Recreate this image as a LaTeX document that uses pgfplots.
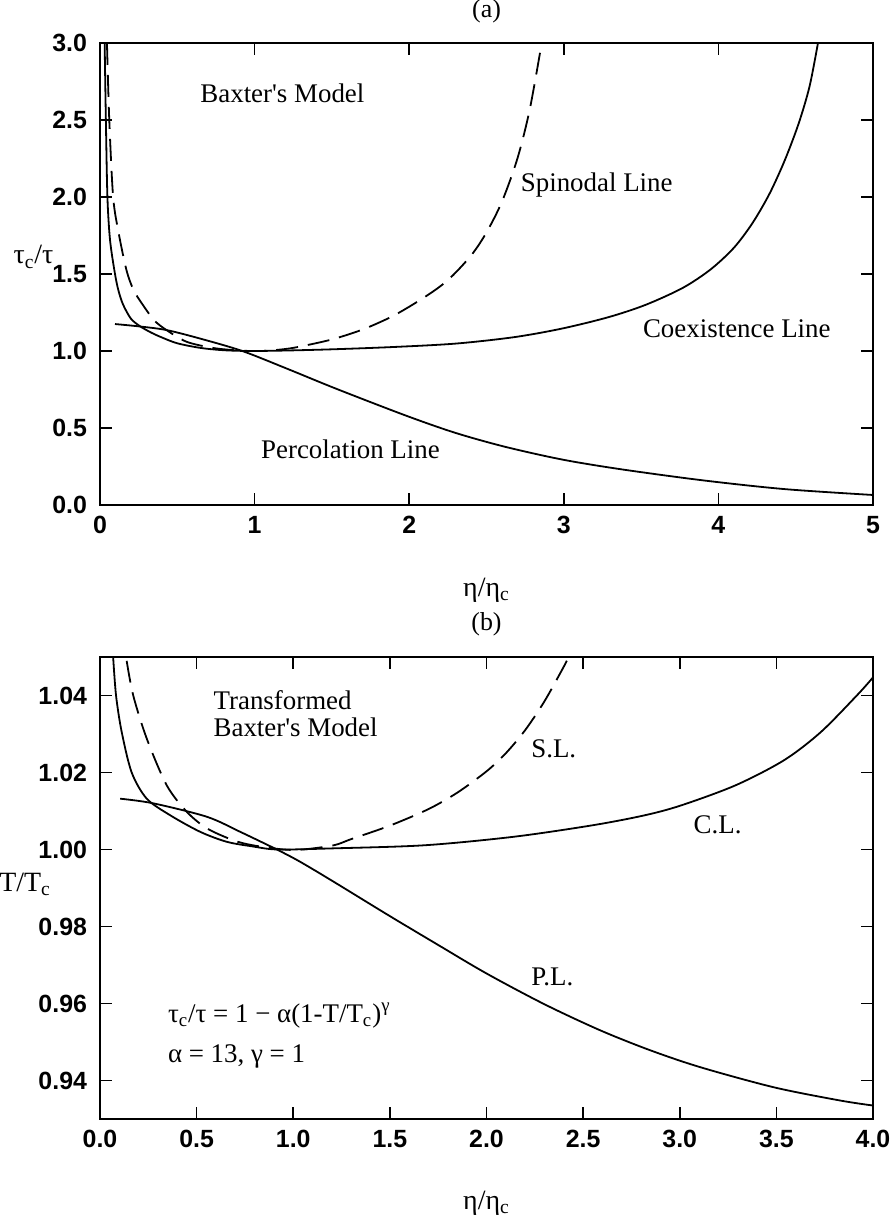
\documentclass[border=0pt]{standalone}
\usepackage{fontspec}
\setmainfont{Liberation Serif}
\newfontfamily\tickfont{Liberation Sans}
\usepackage{pgfplots}
\pgfplotsset{compat=1.18}

\pgfplotsset{
  panel/.style={
    scale only axis, width=386.5bp, height=231bp,
    anchor=south west,
    axis line style={line width=0.9bp},
    every tick/.style={black, line width=0.8bp},
    major tick length=6bp,
    tick align=inside,
    xtick pos=both, ytick pos=both,
    minor tick num=0,
    ticklabel style={font=\tickfont\bfseries\fontsize{12.5}{14}\selectfont},
    /pgf/number format/assume math mode=true,
    xticklabel style={yshift=-2bp},
    yticklabel style={xshift=-3bp},
    label style={font=\fontsize{14}{16}\selectfont},
    title style={font=\fontsize{13}{15}\selectfont},
    every axis plot/.append style={line width=0.9bp, black, no markers, smooth, tension=0.5},
  },
}
\tikzset{
  spinodal/.style={dash pattern=on 11bp off 5bp},
  lbl/.style={anchor=west, inner sep=0pt, font=\fontsize{13.5}{13.5}\selectfont},
}

\begin{document}
\begin{tikzpicture}
\useasboundingbox (0,0) rectangle (446.5bp,611bp);

% (a) Baxter's model in the (eta/eta_c, tau_c/tau) plane
\begin{axis}[panel, at={(50bp,358.5bp)},
  xmin=0, xmax=5, ymin=0, ymax=3,
  xtick={0,1,2,3,4,5}, ytick={0,0.5,1,1.5,2,2.5,3},
  yticklabel style={/pgf/number format/.cd, fixed, fixed zerofill, precision=1},
  title={(a)}, title style={at={(0.5,1.043)}, anchor=center},
  xlabel={η/η\textsubscript{c}},
  xlabel style={at={(axis description cs:0.5,-0.184)}, anchor=center},
  ylabel={τ\textsubscript{c}/τ},
  ylabel style={at={(axis description cs:-0.086,0.537)}, rotate=-90, anchor=center},
]
% coexistence line
\addplot[] coordinates {
 (0.030,3.0) (0.038,2.5) (0.048,2.0) (0.065,1.72) (0.097,1.5) (0.12,1.39)
 (0.15,1.30) (0.20,1.21) (0.26,1.16) (0.33,1.12) (0.40,1.088) (0.50,1.05)
 (0.65,1.02) (0.80,1.005) (0.97,1.0) (1.2,1.003) (1.505,1.011) (1.90,1.026)
 (2.30,1.048) (2.68,1.09) (2.99,1.146) (3.29,1.22) (3.53,1.30) (3.77,1.41)
 (3.95,1.53) (4.10,1.67) (4.22,1.83) (4.33,2.02) (4.43,2.24) (4.52,2.48)
 (4.59,2.72) (4.644,3.0)
};
% spinodal line
\addplot[spinodal] coordinates {
 (0.045,3.0) (0.06,2.5) (0.085,2.0) (0.12,1.77) (0.17,1.53) (0.215,1.40)
 (0.27,1.31) (0.35,1.20) (0.43,1.136) (0.56,1.06) (0.73,1.02) (0.9,1.003)
 (1.05,1.0) (1.2,1.013) (1.30,1.03) (1.5,1.075) (1.7,1.14) (1.9,1.23)
 (2.1,1.35) (2.25,1.46) (2.4,1.62) (2.5,1.77) (2.6,1.97) (2.7,2.25)
 (2.78,2.57) (2.857,3.0)
};
% percolation line
\addplot[] coordinates {
 (0.097,1.175) (0.25,1.16) (0.43,1.136) (0.65,1.08) (0.92,1.0) (1.21,0.885)
 (1.53,0.754) (1.98,0.58) (2.30,0.468) (2.62,0.378) (2.99,0.295) (3.37,0.232)
 (3.90,0.16) (4.43,0.103) (5.0,0.065)
};
\node[lbl] at (axis cs:0.647,2.675) {Baxter\textquotesingle s Model};
\node[lbl] at (axis cs:2.72,2.08) {Spinodal Line};
\node[lbl] at (axis cs:3.51,1.146) {Coexistence Line};
\node[lbl] at (axis cs:1.04,0.363) {Percolation Line};
\end{axis}

% (b) transformed model in the (eta/eta_c, T/T_c) plane
\begin{axis}[panel, at={(50bp,51.5bp)},
  xmin=0, xmax=4, ymin=0.93, ymax=1.05,
  xtick={0,0.5,1,1.5,2,2.5,3,3.5,4},
  ytick={0.94,0.96,0.98,1.00,1.02,1.04},
  xticklabel style={/pgf/number format/.cd, fixed, fixed zerofill, precision=1},
  yticklabel style={/pgf/number format/.cd, fixed, fixed zerofill, precision=2},
  title={(b)}, title style={at={(0.5,1.046)}, anchor=center},
  xlabel={η/η\textsubscript{c}},
  xlabel style={at={(axis description cs:0.5,-0.182)}, anchor=center},
  ylabel={T/T\textsubscript{c}},
  ylabel style={at={(axis description cs:-0.097,0.508)}, rotate=-90, anchor=center},
]
% coexistence line
\addplot[] coordinates {
 (0.068,1.05) (0.083,1.04) (0.112,1.0306) (0.164,1.02) (0.242,1.0132)
 (0.363,1.0089) (0.518,1.0046) (0.656,1.002) (0.79,1.0008) (0.92,1.0)
 (1.21,1.0003) (1.68,1.0011) (2.14,1.0033) (2.55,1.0063) (2.82,1.0089)
 (3.01,1.0115) (3.29,1.0167) (3.54,1.0232) (3.73,1.0305) (3.92,1.0402)
 (4.0,1.0447)
};
% spinodal line
\addplot[spinodal] coordinates {
 (0.138,1.049) (0.172,1.04) (0.242,1.0288) (0.345,1.0167) (0.449,1.0098)
 (0.553,1.0055) (0.69,1.0024) (0.79,1.0011) (0.95,1.0) (1.05,1.0)
 (1.21,1.0011) (1.30,1.0027) (1.5,1.0062) (1.7,1.0105) (1.85,1.0148)
 (2.0,1.0203) (2.1,1.025) (2.2,1.031) (2.3,1.0385) (2.4,1.0475) (2.425,1.05)
};
% percolation line
\addplot[] coordinates {
 (0.104,1.0132) (0.275,1.012) (0.553,1.0085) (0.725,1.0046) (0.915,1.0)
 (1.036,0.9968) (1.21,0.9916) (1.49,0.983) (1.74,0.9755) (2.0,0.9678)
 (2.3,0.9598) (2.59,0.953) (2.85,0.9478) (3.11,0.9434) (3.49,0.9382)
 (3.83,0.9348) (4.0,0.9335)
};
\node[lbl, align=left] at (axis cs:0.586,1.0353) {Transformed\\Baxter\textquotesingle s Model};
\node[lbl] at (axis cs:2.23,1.0262) {S.L.};
\node[lbl] at (axis cs:3.07,1.0063) {C.L.};
\node[lbl] at (axis cs:2.23,0.967) {P.L.};
\node[lbl] at (axis cs:0.35,0.9569) {τ\textsubscript{c}/τ = 1 − α(1-T/T\textsubscript{c})\textsuperscript{γ}};
\node[lbl] at (axis cs:0.35,0.9462) {α = 13, γ = 1};
\end{axis}
\end{tikzpicture}
\end{document}
